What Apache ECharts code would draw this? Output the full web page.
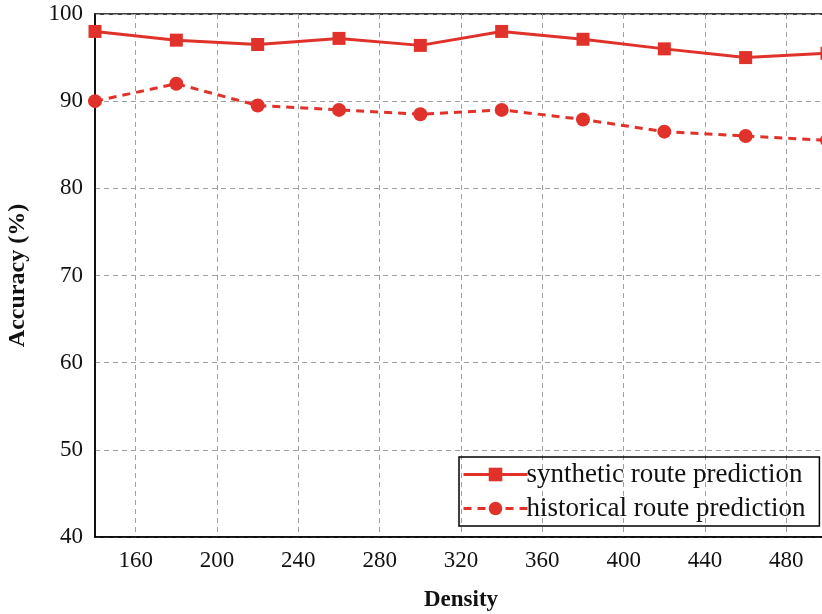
<!DOCTYPE html>
<html>
<head>
<meta charset="utf-8">
<script src="https://cdn.jsdelivr.net/npm/echarts@6/dist/echarts.min.js"></script>
<style>
  html, body {
    margin: 0;
    padding: 0;
    background: #fff;
  }
  #accuracyChart {
    width: 822px;
    height: 614px;
  }
</style>
</head>
<body>
<div id="accuracyChart"></div>
<script>
const density = [140, 180, 220, 260, 300, 340, 380, 420, 460, 500]
const syntheticAcc = [98, 97, 96.5, 97.2, 96.4, 98, 97.1, 96, 95, 95.5]
const historicalAcc = [90, 92, 89.5, 89, 88.5, 89, 87.9, 86.5, 86, 85.5]
const xTicks = [160, 200, 240, 280, 320, 360, 400, 440, 480]
const seriesNames = ['synthetic route prediction', 'historical route prediction']

const red = '#e0322a'
const font = '"Liberation Serif", "Times New Roman", serif'

const chart = echarts.init(document.getElementById('accuracyChart'))

const pairs = (ys) => density.map((x, i) => [x, ys[i]])

chart.setOption({
  animation: false,
  grid: {
    left: 95,
    top: 14,
    width: 732,
    height: 523,
    outerBoundsMode: 'none',
    containLabel: false,
    show: true,
    borderColor: '#000',
    borderWidth: 1.5
  },
  legend: {
    left: 459,
    top: 457,
    orient: 'vertical',
    itemWidth: 64,
    itemHeight: 17,
    itemGap: 3,
    padding: [2, 14, 2, 3],
    borderColor: '#000',
    borderWidth: 1.5,
    lineStyle: { width: 3 },
    textStyle: {
      fontFamily: font,
      fontSize: 27,
      lineHeight: 31,
      color: '#111',
      padding: [0, 0, 0, -6]
    },
    data: seriesNames
  },
  xAxis: {
    type: 'value',
    min: 140,
    max: 500,
    name: 'Density',
    nameLocation: 'middle',
    nameGap: 52,
    nameTextStyle: {
      fontFamily: font,
      fontSize: 23,
      fontWeight: 'bold',
      color: '#111'
    },
    axisLine: { lineStyle: { color: '#000', width: 1.5 } },
    axisTick: { show: false, customValues: xTicks },
    axisLabel: {
      customValues: xTicks,
      margin: 12,
      fontFamily: font,
      fontSize: 23,
      color: '#111'
    },
    splitLine: {
      show: true,
      lineStyle: { color: '#a0a0a0', width: 1, type: [5, 4] }
    }
  },
  yAxis: {
    type: 'value',
    min: 40,
    max: 100,
    interval: 10,
    name: 'Accuracy (%)',
    nameLocation: 'middle',
    nameGap: 65,
    nameTextStyle: {
      fontFamily: font,
      fontSize: 24,
      fontWeight: 'bold',
      color: '#111'
    },
    axisLine: { show: true, lineStyle: { color: '#000', width: 1.5 } },
    axisTick: { show: false },
    axisLabel: {
      margin: 12,
      fontFamily: font,
      fontSize: 23,
      color: '#111'
    },
    splitLine: {
      show: true,
      lineStyle: { color: '#a0a0a0', width: 1, type: [5, 4] }
    }
  },
  series: [{
    name: seriesNames[0],
    type: 'line',
    data: pairs(syntheticAcc),
    symbol: 'rect',
    symbolSize: 13,
    color: red,
    lineStyle: { color: red, width: 3 },
    itemStyle: { color: red }
  }, {
    name: seriesNames[1],
    type: 'line',
    data: pairs(historicalAcc),
    symbol: 'circle',
    symbolSize: 14,
    color: red,
    lineStyle: { color: red, width: 3, type: [8, 6] },
    itemStyle: { color: red }
  }]
})
</script>
</body>
</html>
